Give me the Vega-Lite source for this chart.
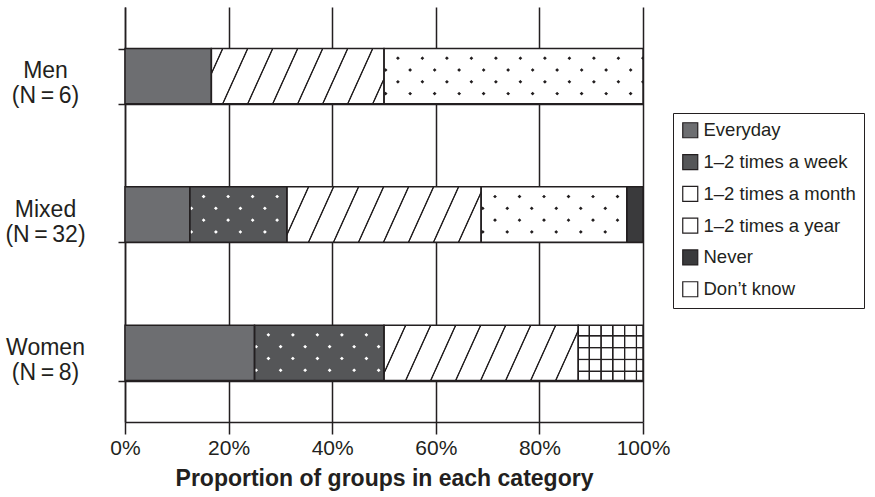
{
  "$schema": "https://vega.github.io/schema/vega-lite/v6.json",
  "autosize": "none",
  "width": 518,
  "height": 415,
  "padding": {"left": 125, "top": 7, "right": 232, "bottom": 75},
  "background": "white",
  "config": {
    "view": {"stroke": null},
    "font": "Liberation Sans",
    "axis": {"labelColor": "#231f20", "titleColor": "#231f20", "domainColor": "#231f20", "tickColor": "#231f20", "gridColor": "#231f20", "gridOpacity": 1, "domainWidth": 1.5, "tickWidth": 1.5, "gridWidth": 1.5, "labelFont": "Liberation Sans", "titleFont": "Liberation Sans"},
    "legend": {"labelFont": "Liberation Sans"}
  },
  "data": {
    "values": [
      {"group": "Men", "category": "Everyday", "count": 1},
      {"group": "Men", "category": "1–2 times a year", "count": 2},
      {"group": "Men", "category": "1–2 times a month", "count": 3},
      {"group": "Mixed", "category": "Everyday", "count": 4},
      {"group": "Mixed", "category": "1–2 times a week", "count": 6},
      {"group": "Mixed", "category": "1–2 times a year", "count": 12},
      {"group": "Mixed", "category": "1–2 times a month", "count": 9},
      {"group": "Mixed", "category": "Never", "count": 1},
      {"group": "Women", "category": "Everyday", "count": 2},
      {"group": "Women", "category": "1–2 times a week", "count": 2},
      {"group": "Women", "category": "1–2 times a year", "count": 3},
      {"group": "Women", "category": "Don’t know", "count": 1}
    ]
  },
  "transform": [
    {"stack": "count", "groupby": ["group"], "offset": "normalize", "as": ["x0", "x1"]}
  ],
  "encoding": {
    "y": {
      "field": "group", "type": "nominal", "sort": ["Men", "Mixed", "Women"],
      "scale": {"paddingInner": 0.6, "paddingOuter": 0.3},
      "axis": {"title": null, "orient": "left", "tickBand": "extent", "grid": true, "tickSize": 7, "labels": false}
    },
    "x": {
      "field": "x0", "type": "quantitative",
      "scale": {"domain": [0, 1], "nice": false},
      "axis": {
        "title": "Proportion of groups in each category", "titleFontSize": 23, "titleFontWeight": "bold", "titlePadding": 9,
        "format": ".0%", "values": [0, 0.2, 0.4, 0.6, 0.8, 1], "tickSize": 12, "labelFontSize": 21, "labelPadding": 3, "grid": true, "labelFlush": false
      }
    },
    "x2": {"field": "x1"}
  },
  "resolve": {"axis": {"y": "independent"}},
  "layer": [
    {
      "layer": [
        {
          "mark": {"type": "bar", "strokeWidth": 0},
          "encoding": {
            "color": {
              "field": "category", "type": "nominal",
              "scale": {
                "domain": ["Everyday", "1–2 times a week", "1–2 times a month", "1–2 times a year", "Never", "Don’t know"],
                "range": ["#6d6e71", "#555658", "#ffffff", "#ffffff", "#3a3a3c", "#ffffff"]
              },
              "legend": {
                "title": null, "orient": "none", "legendX": 548, "legendY": 106,
                "strokeColor": "#231f20", "fillColor": "#ffffff", "padding": 8, "rowPadding": 10.8,
                "labelFontSize": 18.5, "labelColor": "#231f20", "labelOffset": 4, "labelLimit": 300,
                "symbolType": "square", "symbolSize": 225, "symbolStrokeColor": "#231f20", "symbolStrokeWidth": 1.2, "symbolOpacity": 1
              }
            }
          }
        },
        {
          "transform": [{"filter": "datum.category === '1–2 times a year'"}],
          "mark": {"type": "bar", "strokeWidth": 0},
          "encoding": {
            "fill": {
              "condition": {"test": "datum.group === 'Men'", "value": {"gradient": "linear", "x1": 0, "y1": 0, "x2": 1.1215, "y2": 0.1627, "stops": [
                {"offset": 0.0516, "color": "#ffffff"}, {"offset": 0.0557, "color": "#231f20"}, {"offset": 0.0597, "color": "#231f20"}, {"offset": 0.0638, "color": "#ffffff"},
                {"offset": 0.1780, "color": "#ffffff"}, {"offset": 0.1821, "color": "#231f20"}, {"offset": 0.1861, "color": "#231f20"}, {"offset": 0.1902, "color": "#ffffff"},
                {"offset": 0.3044, "color": "#ffffff"}, {"offset": 0.3085, "color": "#231f20"}, {"offset": 0.3125, "color": "#231f20"}, {"offset": 0.3166, "color": "#ffffff"},
                {"offset": 0.4309, "color": "#ffffff"}, {"offset": 0.4350, "color": "#231f20"}, {"offset": 0.4390, "color": "#231f20"}, {"offset": 0.4431, "color": "#ffffff"},
                {"offset": 0.5573, "color": "#ffffff"}, {"offset": 0.5614, "color": "#231f20"}, {"offset": 0.5654, "color": "#231f20"}, {"offset": 0.5695, "color": "#ffffff"},
                {"offset": 0.6838, "color": "#ffffff"}, {"offset": 0.6879, "color": "#231f20"}, {"offset": 0.6919, "color": "#231f20"}, {"offset": 0.6960, "color": "#ffffff"},
                {"offset": 0.8102, "color": "#ffffff"}, {"offset": 0.8143, "color": "#231f20"}, {"offset": 0.8183, "color": "#231f20"}, {"offset": 0.8224, "color": "#ffffff"},
                {"offset": 0.9367, "color": "#ffffff"}, {"offset": 0.9408, "color": "#231f20"}, {"offset": 0.9448, "color": "#231f20"}, {"offset": 0.9489, "color": "#ffffff"}
              ]}},
              "value": {"gradient": "linear", "x1": 0, "y1": 0, "x2": 1.1105, "y2": 0.1432, "stops": [
                {"offset": 0.0935, "color": "#ffffff"}, {"offset": 0.0972, "color": "#231f20"}, {"offset": 0.1008, "color": "#231f20"}, {"offset": 0.1045, "color": "#ffffff"},
                {"offset": 0.2075, "color": "#ffffff"}, {"offset": 0.2112, "color": "#231f20"}, {"offset": 0.2148, "color": "#231f20"}, {"offset": 0.2185, "color": "#ffffff"},
                {"offset": 0.3215, "color": "#ffffff"}, {"offset": 0.3252, "color": "#231f20"}, {"offset": 0.3288, "color": "#231f20"}, {"offset": 0.3325, "color": "#ffffff"},
                {"offset": 0.4355, "color": "#ffffff"}, {"offset": 0.4392, "color": "#231f20"}, {"offset": 0.4428, "color": "#231f20"}, {"offset": 0.4465, "color": "#ffffff"},
                {"offset": 0.5495, "color": "#ffffff"}, {"offset": 0.5532, "color": "#231f20"}, {"offset": 0.5568, "color": "#231f20"}, {"offset": 0.5605, "color": "#ffffff"},
                {"offset": 0.6635, "color": "#ffffff"}, {"offset": 0.6672, "color": "#231f20"}, {"offset": 0.6708, "color": "#231f20"}, {"offset": 0.6745, "color": "#ffffff"},
                {"offset": 0.7775, "color": "#ffffff"}, {"offset": 0.7812, "color": "#231f20"}, {"offset": 0.7848, "color": "#231f20"}, {"offset": 0.7885, "color": "#ffffff"},
                {"offset": 0.8915, "color": "#ffffff"}, {"offset": 0.8952, "color": "#231f20"}, {"offset": 0.8988, "color": "#231f20"}, {"offset": 0.9025, "color": "#ffffff"}
              ]}
            }
          }
        },
        {
          "transform": [{"filter": "datum.category === 'Don’t know'"}],
          "mark": {"type": "bar", "strokeWidth": 0, "fill": {"gradient": "linear", "x1": 0, "y1": 0, "x2": 1, "y2": 0, "stops": [
            {"offset": 0.1529, "color": "rgba(35,31,32,0)"}, {"offset": 0.1637, "color": "#231f20"}, {"offset": 0.1761, "color": "#231f20"}, {"offset": 0.1869, "color": "rgba(35,31,32,0)"},
            {"offset": 0.3351, "color": "rgba(35,31,32,0)"}, {"offset": 0.3459, "color": "#231f20"}, {"offset": 0.3583, "color": "#231f20"}, {"offset": 0.3691, "color": "rgba(35,31,32,0)"},
            {"offset": 0.5174, "color": "rgba(35,31,32,0)"}, {"offset": 0.5282, "color": "#231f20"}, {"offset": 0.5406, "color": "#231f20"}, {"offset": 0.5514, "color": "rgba(35,31,32,0)"},
            {"offset": 0.6996, "color": "rgba(35,31,32,0)"}, {"offset": 0.7104, "color": "#231f20"}, {"offset": 0.7228, "color": "#231f20"}, {"offset": 0.7336, "color": "rgba(35,31,32,0)"},
            {"offset": 0.8818, "color": "rgba(35,31,32,0)"}, {"offset": 0.8926, "color": "#231f20"}, {"offset": 0.9050, "color": "#231f20"}, {"offset": 0.9158, "color": "rgba(35,31,32,0)"}
          ]}},
          "encoding": {}
        },
        {
          "transform": [{"filter": "datum.category === 'Don’t know'"}],
          "mark": {"type": "bar", "strokeWidth": 0, "fill": {"gradient": "linear", "x1": 0, "y1": 0, "x2": 0, "y2": 1, "stops": [
            {"offset": 0.1735, "color": "rgba(35,31,32,0)"}, {"offset": 0.1862, "color": "#231f20"}, {"offset": 0.2006, "color": "#231f20"}, {"offset": 0.2133, "color": "rgba(35,31,32,0)"},
            {"offset": 0.3868, "color": "rgba(35,31,32,0)"}, {"offset": 0.3995, "color": "#231f20"}, {"offset": 0.4139, "color": "#231f20"}, {"offset": 0.4266, "color": "rgba(35,31,32,0)"},
            {"offset": 0.6000, "color": "rgba(35,31,32,0)"}, {"offset": 0.6127, "color": "#231f20"}, {"offset": 0.6271, "color": "#231f20"}, {"offset": 0.6398, "color": "rgba(35,31,32,0)"},
            {"offset": 0.8133, "color": "rgba(35,31,32,0)"}, {"offset": 0.8260, "color": "#231f20"}, {"offset": 0.8404, "color": "#231f20"}, {"offset": 0.8531, "color": "rgba(35,31,32,0)"}
          ]}},
          "encoding": {}
        },
        {
          "transform": [{"filter": "datum.category === '1–2 times a week' || datum.category === '1–2 times a month'"}],
          "mark": {"type": "bar", "strokeWidth": 0},
          "encoding": {
            "fill": {"condition": {"test": "datum.category === '1–2 times a week'", "value": "#ffffff"}, "value": "#231f20"}
          }
        },
        {
          "transform": [{"filter": "datum.category === '1–2 times a week' || datum.category === '1–2 times a month'"}],
          "mark": {"type": "bar", "strokeWidth": 0},
          "encoding": {
            "fill": {
              "condition": [
                {"test": "datum.group === 'Mixed' && datum.category === '1–2 times a week'", "value": {"gradient": "linear", "x1": 0, "y1": 0, "x2": 1.179, "y2": 0.6972, "stops": [
                  {"offset": 0.1383, "color": "#555658"}, {"offset": 0.1470, "color": "rgba(85,86,88,0)"}, {"offset": 0.1628, "color": "rgba(85,86,88,0)"}, {"offset": 0.1715, "color": "#555658"},
                  {"offset": 0.2968, "color": "#555658"}, {"offset": 0.3055, "color": "rgba(85,86,88,0)"}, {"offset": 0.3213, "color": "rgba(85,86,88,0)"}, {"offset": 0.3300, "color": "#555658"},
                  {"offset": 0.4554, "color": "#555658"}, {"offset": 0.4641, "color": "rgba(85,86,88,0)"}, {"offset": 0.4799, "color": "rgba(85,86,88,0)"}, {"offset": 0.4886, "color": "#555658"},
                  {"offset": 0.6139, "color": "#555658"}, {"offset": 0.6226, "color": "rgba(85,86,88,0)"}, {"offset": 0.6384, "color": "rgba(85,86,88,0)"}, {"offset": 0.6471, "color": "#555658"},
                  {"offset": 0.7724, "color": "#555658"}, {"offset": 0.7811, "color": "rgba(85,86,88,0)"}, {"offset": 0.7969, "color": "rgba(85,86,88,0)"}, {"offset": 0.8056, "color": "#555658"},
                  {"offset": 0.9309, "color": "#555658"}, {"offset": 0.9396, "color": "rgba(85,86,88,0)"}, {"offset": 0.9554, "color": "rgba(85,86,88,0)"}, {"offset": 0.9641, "color": "#555658"}
                ]}},
                {"test": "datum.group === 'Women' && datum.category === '1–2 times a week'", "value": {"gradient": "linear", "x1": 0, "y1": 0, "x2": 1.2062, "y2": 0.5351, "stops": [
                  {"offset": 0.1143, "color": "#555658"}, {"offset": 0.1215, "color": "rgba(85,86,88,0)"}, {"offset": 0.1347, "color": "rgba(85,86,88,0)"}, {"offset": 0.1419, "color": "#555658"},
                  {"offset": 0.2454, "color": "#555658"}, {"offset": 0.2526, "color": "rgba(85,86,88,0)"}, {"offset": 0.2658, "color": "rgba(85,86,88,0)"}, {"offset": 0.2730, "color": "#555658"},
                  {"offset": 0.3764, "color": "#555658"}, {"offset": 0.3836, "color": "rgba(85,86,88,0)"}, {"offset": 0.3968, "color": "rgba(85,86,88,0)"}, {"offset": 0.4040, "color": "#555658"},
                  {"offset": 0.5075, "color": "#555658"}, {"offset": 0.5147, "color": "rgba(85,86,88,0)"}, {"offset": 0.5279, "color": "rgba(85,86,88,0)"}, {"offset": 0.5351, "color": "#555658"},
                  {"offset": 0.6386, "color": "#555658"}, {"offset": 0.6458, "color": "rgba(85,86,88,0)"}, {"offset": 0.6590, "color": "rgba(85,86,88,0)"}, {"offset": 0.6662, "color": "#555658"},
                  {"offset": 0.7696, "color": "#555658"}, {"offset": 0.7768, "color": "rgba(85,86,88,0)"}, {"offset": 0.7900, "color": "rgba(85,86,88,0)"}, {"offset": 0.7972, "color": "#555658"},
                  {"offset": 0.9007, "color": "#555658"}, {"offset": 0.9079, "color": "rgba(85,86,88,0)"}, {"offset": 0.9211, "color": "rgba(85,86,88,0)"}, {"offset": 0.9283, "color": "#555658"}
                ]}},
                {"test": "datum.group === 'Men'", "value": {"gradient": "linear", "x1": 0, "y1": 0, "x2": 1.1645, "y2": 0.2582, "stops": [
                  {"offset": 0.0676, "color": "#ffffff"}, {"offset": 0.0718, "color": "rgba(255,255,255,0)"}, {"offset": 0.0796, "color": "rgba(255,255,255,0)"}, {"offset": 0.0838, "color": "#ffffff"},
                  {"offset": 0.1450, "color": "#ffffff"}, {"offset": 0.1492, "color": "rgba(255,255,255,0)"}, {"offset": 0.1570, "color": "rgba(255,255,255,0)"}, {"offset": 0.1612, "color": "#ffffff"},
                  {"offset": 0.2224, "color": "#ffffff"}, {"offset": 0.2266, "color": "rgba(255,255,255,0)"}, {"offset": 0.2344, "color": "rgba(255,255,255,0)"}, {"offset": 0.2386, "color": "#ffffff"},
                  {"offset": 0.2999, "color": "#ffffff"}, {"offset": 0.3041, "color": "rgba(255,255,255,0)"}, {"offset": 0.3119, "color": "rgba(255,255,255,0)"}, {"offset": 0.3161, "color": "#ffffff"},
                  {"offset": 0.3773, "color": "#ffffff"}, {"offset": 0.3815, "color": "rgba(255,255,255,0)"}, {"offset": 0.3893, "color": "rgba(255,255,255,0)"}, {"offset": 0.3935, "color": "#ffffff"},
                  {"offset": 0.4547, "color": "#ffffff"}, {"offset": 0.4589, "color": "rgba(255,255,255,0)"}, {"offset": 0.4667, "color": "rgba(255,255,255,0)"}, {"offset": 0.4709, "color": "#ffffff"},
                  {"offset": 0.5321, "color": "#ffffff"}, {"offset": 0.5363, "color": "rgba(255,255,255,0)"}, {"offset": 0.5441, "color": "rgba(255,255,255,0)"}, {"offset": 0.5483, "color": "#ffffff"},
                  {"offset": 0.6096, "color": "#ffffff"}, {"offset": 0.6138, "color": "rgba(255,255,255,0)"}, {"offset": 0.6216, "color": "rgba(255,255,255,0)"}, {"offset": 0.6258, "color": "#ffffff"},
                  {"offset": 0.6870, "color": "#ffffff"}, {"offset": 0.6912, "color": "rgba(255,255,255,0)"}, {"offset": 0.6990, "color": "rgba(255,255,255,0)"}, {"offset": 0.7032, "color": "#ffffff"},
                  {"offset": 0.7644, "color": "#ffffff"}, {"offset": 0.7686, "color": "rgba(255,255,255,0)"}, {"offset": 0.7764, "color": "rgba(255,255,255,0)"}, {"offset": 0.7806, "color": "#ffffff"},
                  {"offset": 0.8418, "color": "#ffffff"}, {"offset": 0.8460, "color": "rgba(255,255,255,0)"}, {"offset": 0.8538, "color": "rgba(255,255,255,0)"}, {"offset": 0.8580, "color": "#ffffff"},
                  {"offset": 0.9193, "color": "#ffffff"}, {"offset": 0.9235, "color": "rgba(255,255,255,0)"}, {"offset": 0.9313, "color": "rgba(255,255,255,0)"}, {"offset": 0.9355, "color": "#ffffff"}
                ]}}
              ],
              "value": {"gradient": "linear", "x1": 0, "y1": 0, "x2": 1.2066, "y2": 0.4758, "stops": [
                {"offset": 0.1052, "color": "#ffffff"}, {"offset": 0.1119, "color": "rgba(255,255,255,0)"}, {"offset": 0.1239, "color": "rgba(255,255,255,0)"}, {"offset": 0.1306, "color": "#ffffff"},
                {"offset": 0.2258, "color": "#ffffff"}, {"offset": 0.2325, "color": "rgba(255,255,255,0)"}, {"offset": 0.2445, "color": "rgba(255,255,255,0)"}, {"offset": 0.2512, "color": "#ffffff"},
                {"offset": 0.3464, "color": "#ffffff"}, {"offset": 0.3531, "color": "rgba(255,255,255,0)"}, {"offset": 0.3651, "color": "rgba(255,255,255,0)"}, {"offset": 0.3718, "color": "#ffffff"},
                {"offset": 0.4670, "color": "#ffffff"}, {"offset": 0.4737, "color": "rgba(255,255,255,0)"}, {"offset": 0.4857, "color": "rgba(255,255,255,0)"}, {"offset": 0.4924, "color": "#ffffff"},
                {"offset": 0.5877, "color": "#ffffff"}, {"offset": 0.5944, "color": "rgba(255,255,255,0)"}, {"offset": 0.6064, "color": "rgba(255,255,255,0)"}, {"offset": 0.6131, "color": "#ffffff"},
                {"offset": 0.7083, "color": "#ffffff"}, {"offset": 0.7150, "color": "rgba(255,255,255,0)"}, {"offset": 0.7270, "color": "rgba(255,255,255,0)"}, {"offset": 0.7337, "color": "#ffffff"},
                {"offset": 0.8289, "color": "#ffffff"}, {"offset": 0.8356, "color": "rgba(255,255,255,0)"}, {"offset": 0.8476, "color": "rgba(255,255,255,0)"}, {"offset": 0.8543, "color": "#ffffff"},
                {"offset": 0.9495, "color": "#ffffff"}, {"offset": 0.9562, "color": "rgba(255,255,255,0)"}, {"offset": 0.9682, "color": "rgba(255,255,255,0)"}, {"offset": 0.9749, "color": "#ffffff"}
              ]}
            }
          }
        },
        {
          "transform": [{"filter": "datum.category === '1–2 times a week' || datum.category === '1–2 times a month'"}],
          "mark": {"type": "bar", "strokeWidth": 0},
          "encoding": {
            "fill": {
              "condition": [
                {"test": "datum.group === 'Mixed' && datum.category === '1–2 times a week'", "value": {"gradient": "linear", "x1": 0, "y1": 1, "x2": 1.179, "y2": 0.3028, "stops": [
                  {"offset": 0.0627, "color": "#555658"}, {"offset": 0.0714, "color": "rgba(85,86,88,0)"}, {"offset": 0.0872, "color": "rgba(85,86,88,0)"}, {"offset": 0.0959, "color": "#555658"},
                  {"offset": 0.2212, "color": "#555658"}, {"offset": 0.2299, "color": "rgba(85,86,88,0)"}, {"offset": 0.2457, "color": "rgba(85,86,88,0)"}, {"offset": 0.2544, "color": "#555658"},
                  {"offset": 0.3797, "color": "#555658"}, {"offset": 0.3884, "color": "rgba(85,86,88,0)"}, {"offset": 0.4042, "color": "rgba(85,86,88,0)"}, {"offset": 0.4129, "color": "#555658"},
                  {"offset": 0.5382, "color": "#555658"}, {"offset": 0.5469, "color": "rgba(85,86,88,0)"}, {"offset": 0.5627, "color": "rgba(85,86,88,0)"}, {"offset": 0.5714, "color": "#555658"},
                  {"offset": 0.6967, "color": "#555658"}, {"offset": 0.7054, "color": "rgba(85,86,88,0)"}, {"offset": 0.7212, "color": "rgba(85,86,88,0)"}, {"offset": 0.7299, "color": "#555658"},
                  {"offset": 0.8552, "color": "#555658"}, {"offset": 0.8639, "color": "rgba(85,86,88,0)"}, {"offset": 0.8797, "color": "rgba(85,86,88,0)"}, {"offset": 0.8884, "color": "#555658"}
                ]}},
                {"test": "datum.group === 'Women' && datum.category === '1–2 times a week'", "value": {"gradient": "linear", "x1": 0, "y1": 1, "x2": 1.2062, "y2": 0.4649, "stops": [
                  {"offset": 0.0517, "color": "#555658"}, {"offset": 0.0589, "color": "rgba(85,86,88,0)"}, {"offset": 0.0721, "color": "rgba(85,86,88,0)"}, {"offset": 0.0793, "color": "#555658"},
                  {"offset": 0.1828, "color": "#555658"}, {"offset": 0.1900, "color": "rgba(85,86,88,0)"}, {"offset": 0.2032, "color": "rgba(85,86,88,0)"}, {"offset": 0.2104, "color": "#555658"},
                  {"offset": 0.3139, "color": "#555658"}, {"offset": 0.3211, "color": "rgba(85,86,88,0)"}, {"offset": 0.3343, "color": "rgba(85,86,88,0)"}, {"offset": 0.3415, "color": "#555658"},
                  {"offset": 0.4449, "color": "#555658"}, {"offset": 0.4521, "color": "rgba(85,86,88,0)"}, {"offset": 0.4653, "color": "rgba(85,86,88,0)"}, {"offset": 0.4725, "color": "#555658"},
                  {"offset": 0.5760, "color": "#555658"}, {"offset": 0.5832, "color": "rgba(85,86,88,0)"}, {"offset": 0.5964, "color": "rgba(85,86,88,0)"}, {"offset": 0.6036, "color": "#555658"},
                  {"offset": 0.7070, "color": "#555658"}, {"offset": 0.7142, "color": "rgba(85,86,88,0)"}, {"offset": 0.7274, "color": "rgba(85,86,88,0)"}, {"offset": 0.7346, "color": "#555658"},
                  {"offset": 0.8381, "color": "#555658"}, {"offset": 0.8453, "color": "rgba(85,86,88,0)"}, {"offset": 0.8585, "color": "rgba(85,86,88,0)"}, {"offset": 0.8657, "color": "#555658"},
                  {"offset": 0.9692, "color": "#555658"}, {"offset": 0.9764, "color": "rgba(85,86,88,0)"}, {"offset": 0.9896, "color": "rgba(85,86,88,0)"}, {"offset": 0.9968, "color": "#555658"}
                ]}},
                {"test": "datum.group === 'Men'", "value": {"gradient": "linear", "x1": 0, "y1": 1, "x2": 1.1645, "y2": 0.7418, "stops": [
                  {"offset": 0.0306, "color": "#ffffff"}, {"offset": 0.0348, "color": "rgba(255,255,255,0)"}, {"offset": 0.0426, "color": "rgba(255,255,255,0)"}, {"offset": 0.0468, "color": "#ffffff"},
                  {"offset": 0.1080, "color": "#ffffff"}, {"offset": 0.1122, "color": "rgba(255,255,255,0)"}, {"offset": 0.1200, "color": "rgba(255,255,255,0)"}, {"offset": 0.1242, "color": "#ffffff"},
                  {"offset": 0.1855, "color": "#ffffff"}, {"offset": 0.1897, "color": "rgba(255,255,255,0)"}, {"offset": 0.1975, "color": "rgba(255,255,255,0)"}, {"offset": 0.2017, "color": "#ffffff"},
                  {"offset": 0.2629, "color": "#ffffff"}, {"offset": 0.2671, "color": "rgba(255,255,255,0)"}, {"offset": 0.2749, "color": "rgba(255,255,255,0)"}, {"offset": 0.2791, "color": "#ffffff"},
                  {"offset": 0.3403, "color": "#ffffff"}, {"offset": 0.3445, "color": "rgba(255,255,255,0)"}, {"offset": 0.3523, "color": "rgba(255,255,255,0)"}, {"offset": 0.3565, "color": "#ffffff"},
                  {"offset": 0.4177, "color": "#ffffff"}, {"offset": 0.4219, "color": "rgba(255,255,255,0)"}, {"offset": 0.4297, "color": "rgba(255,255,255,0)"}, {"offset": 0.4339, "color": "#ffffff"},
                  {"offset": 0.4952, "color": "#ffffff"}, {"offset": 0.4994, "color": "rgba(255,255,255,0)"}, {"offset": 0.5072, "color": "rgba(255,255,255,0)"}, {"offset": 0.5114, "color": "#ffffff"},
                  {"offset": 0.5726, "color": "#ffffff"}, {"offset": 0.5768, "color": "rgba(255,255,255,0)"}, {"offset": 0.5846, "color": "rgba(255,255,255,0)"}, {"offset": 0.5888, "color": "#ffffff"},
                  {"offset": 0.6500, "color": "#ffffff"}, {"offset": 0.6542, "color": "rgba(255,255,255,0)"}, {"offset": 0.6620, "color": "rgba(255,255,255,0)"}, {"offset": 0.6662, "color": "#ffffff"},
                  {"offset": 0.7274, "color": "#ffffff"}, {"offset": 0.7316, "color": "rgba(255,255,255,0)"}, {"offset": 0.7394, "color": "rgba(255,255,255,0)"}, {"offset": 0.7436, "color": "#ffffff"},
                  {"offset": 0.8049, "color": "#ffffff"}, {"offset": 0.8091, "color": "rgba(255,255,255,0)"}, {"offset": 0.8169, "color": "rgba(255,255,255,0)"}, {"offset": 0.8211, "color": "#ffffff"},
                  {"offset": 0.8823, "color": "#ffffff"}, {"offset": 0.8865, "color": "rgba(255,255,255,0)"}, {"offset": 0.8943, "color": "rgba(255,255,255,0)"}, {"offset": 0.8985, "color": "#ffffff"},
                  {"offset": 0.9597, "color": "#ffffff"}, {"offset": 0.9639, "color": "rgba(255,255,255,0)"}, {"offset": 0.9717, "color": "rgba(255,255,255,0)"}, {"offset": 0.9759, "color": "#ffffff"}
                ]}}
              ],
              "value": {"gradient": "linear", "x1": 0, "y1": 1, "x2": 1.2066, "y2": 0.5242, "stops": [
                {"offset": 0.0476, "color": "#ffffff"}, {"offset": 0.0543, "color": "rgba(255,255,255,0)"}, {"offset": 0.0663, "color": "rgba(255,255,255,0)"}, {"offset": 0.0730, "color": "#ffffff"},
                {"offset": 0.1682, "color": "#ffffff"}, {"offset": 0.1749, "color": "rgba(255,255,255,0)"}, {"offset": 0.1869, "color": "rgba(255,255,255,0)"}, {"offset": 0.1936, "color": "#ffffff"},
                {"offset": 0.2888, "color": "#ffffff"}, {"offset": 0.2955, "color": "rgba(255,255,255,0)"}, {"offset": 0.3075, "color": "rgba(255,255,255,0)"}, {"offset": 0.3142, "color": "#ffffff"},
                {"offset": 0.4094, "color": "#ffffff"}, {"offset": 0.4161, "color": "rgba(255,255,255,0)"}, {"offset": 0.4281, "color": "rgba(255,255,255,0)"}, {"offset": 0.4348, "color": "#ffffff"},
                {"offset": 0.5301, "color": "#ffffff"}, {"offset": 0.5368, "color": "rgba(255,255,255,0)"}, {"offset": 0.5488, "color": "rgba(255,255,255,0)"}, {"offset": 0.5555, "color": "#ffffff"},
                {"offset": 0.6507, "color": "#ffffff"}, {"offset": 0.6574, "color": "rgba(255,255,255,0)"}, {"offset": 0.6694, "color": "rgba(255,255,255,0)"}, {"offset": 0.6761, "color": "#ffffff"},
                {"offset": 0.7713, "color": "#ffffff"}, {"offset": 0.7780, "color": "rgba(255,255,255,0)"}, {"offset": 0.7900, "color": "rgba(255,255,255,0)"}, {"offset": 0.7967, "color": "#ffffff"},
                {"offset": 0.8919, "color": "#ffffff"}, {"offset": 0.8986, "color": "rgba(255,255,255,0)"}, {"offset": 0.9106, "color": "rgba(255,255,255,0)"}, {"offset": 0.9173, "color": "#ffffff"}
              ]}
            }
          }
        },
        {
          "mark": {"type": "bar", "filled": false, "stroke": "#231f20", "strokeWidth": 1.5},
          "encoding": {}
        }
      ]
    },
    {
      "mark": {"type": "bar", "opacity": 0},
      "encoding": {
        "y": {
          "field": "group", "type": "nominal", "sort": ["Men", "Mixed", "Women"],
          "axis": {
            "title": null, "orient": "left", "ticks": false, "domain": false, "grid": false, "labelFontSize": 23,
            "labelAlign": "center", "labelBaseline": "middle", "labelPadding": 80, "labelOffset": -5, "labelLineHeight": 25,
            "labelExpr": "datum.value === 'Men' ? ['Men', '(N\u2009=\u20096)'] : datum.value === 'Mixed' ? ['Mixed', '(N\u2009=\u200932)'] : ['Women', '(N\u2009=\u20098)']"
          }
        }
      }
    }
  ]
}
